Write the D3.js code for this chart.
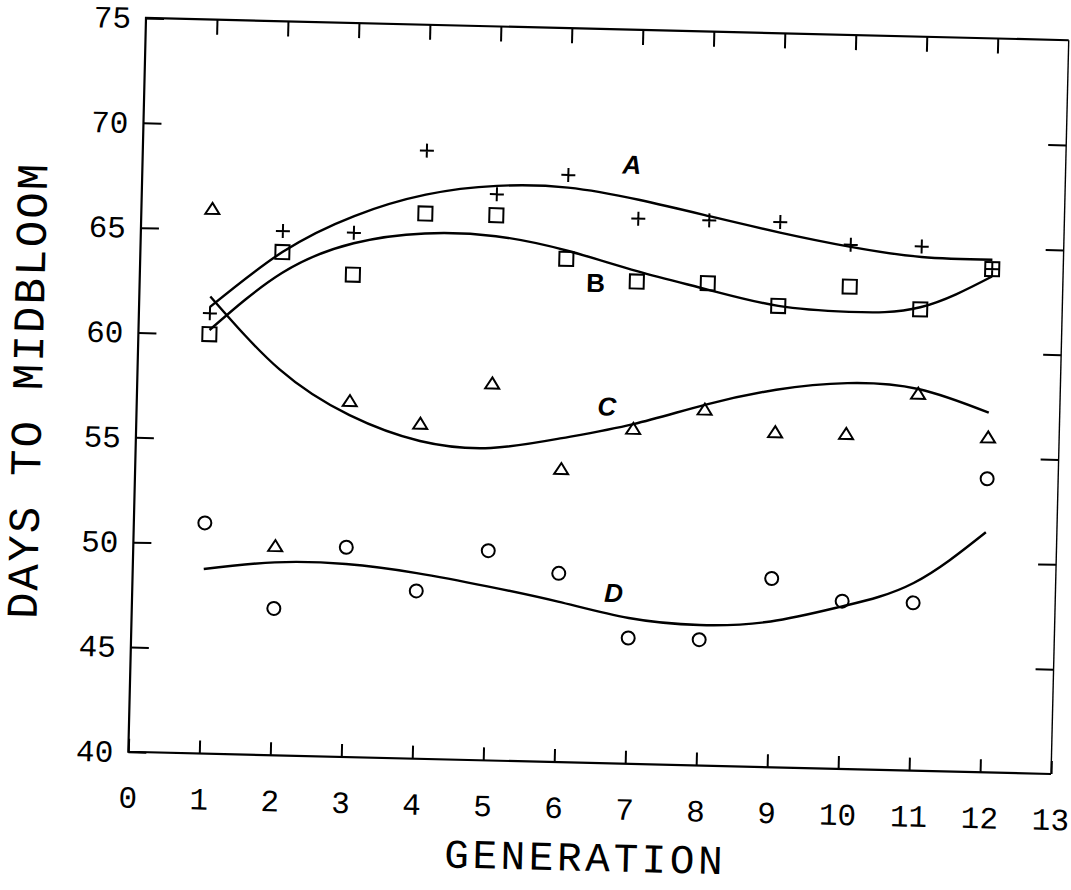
<!DOCTYPE html>
<html>
<head>
<meta charset="utf-8">
<script src="https://cdn.jsdelivr.net/npm/d3@7"></script>
<style>
  html, body { margin: 0; padding: 0; background: #fff; }
  svg { display: block; }
</style>
</head>
<body>
<svg id="chart" width="1071" height="890"></svg>
<script>
// Generations sampled
const generations = [1, 2, 3, 4, 5, 6, 7, 8, 9, 10, 11, 12];

// Observed days to midbloom, one value per generation
const seriesA = [61, 65, 65, 69, 67, 68, 66, 66, 66, 65, 65, 64];   // plus
const seriesB = [60, 64, 63, 66, 66, 64, 63, 63, 62, 63, 62, 64];   // square
const seriesC = [66, 50, 57, 56, 58, 54, 56, 57, 56, 56, 58, 56];   // triangle
const seriesD = [51, 47, 50, 48, 50, 49, 46, 46, 49, 48, 48, 54];   // circle

// Fitted response curves, sampled at each generation
const fitA = [61.3, 64.0, 65.8, 66.9, 67.4, 67.4, 66.9, 66.2, 65.5, 64.9, 64.5, 64.45];
const fitB = [60.2, 63.0, 64.5, 65.05, 65.0, 64.4, 63.5, 62.7, 62.0, 61.8, 62.1, 63.65];
const fitC = [61.8, 58.4, 56.3, 55.15, 54.9, 55.45, 56.2, 57.2, 58.0, 58.4, 58.2, 57.15];
const fitD = [48.8, 49.2, 49.2, 48.85, 48.3, 47.65, 46.95, 46.7, 46.95, 47.75, 48.95, 51.45];

// Axis ticks
const xTickLabels = [0, 1, 2, 3, 4, 5, 6, 7, 8, 9, 10, 11, 12, 13];
const yTickLabels = [40, 45, 50, 55, 60, 65, 70, 75];

// Curve labels (generation, days)
const curveLabels = [
  { text: "A", gen: 6.89, days: 68.56, italic: true },
  { text: "B", gen: 6.42, days: 62.88, italic: false },
  { text: "C", gen: 6.62, days: 57.01, italic: true },
  { text: "D", gen: 6.78, days: 48.13, italic: true }
];

const MONO = "'Liberation Mono', 'DejaVu Sans Mono', monospace";
const W = 923, H = 734;
const svg = d3.select("#chart");
svg.append("rect").attr("width", 1071).attr("height", 890).attr("fill", "#fff");

// the whole plot sits slightly tilted on the page
const g = svg.append("g").attr("transform", "translate(146,18) rotate(1.38)");

const x = d3.scaleLinear().domain([0, 13]).range([0, W]);
const y = d3.scaleLinear().domain([40, 75]).range([H, 0]);

function styleAxis(sel) {
  sel.select(".domain").remove();
  sel.selectAll(".tick line").attr("stroke", "#000").attr("stroke-width", 2);
  sel.selectAll(".tick text").attr("fill", "#000").attr("font-size", 31)
    .attr("font-family", MONO);
}

g.append("g").attr("transform", `translate(0,${H})`)
  .call(d3.axisBottom(x).tickValues(xTickLabels).tickSize(-13).tickPadding(34).tickFormat(d3.format("d")))
  .call(styleAxis);
g.append("g")
  .call(d3.axisTop(x).tickValues(generations).tickSize(-15).tickFormat(""))
  .call(styleAxis);
g.append("g")
  .call(d3.axisLeft(y).tickValues(yTickLabels).tickSize(-18).tickPadding(15).tickFormat(d3.format("d")))
  .call(styleAxis);
g.append("g").attr("transform", `translate(${W},0)`)
  .call(d3.axisRight(y).tickValues(yTickLabels.slice(1, -1)).tickSize(-18).tickFormat(""))
  .call(styleAxis);

// frame
g.append("path")
  .attr("d", `M${W},0 H0 V${H} H${W}`)
  .attr("fill", "none").attr("stroke", "#000").attr("stroke-width", 2.2);
g.append("line")
  .attr("x1", W).attr("y1", 0).attr("x2", W).attr("y2", H)
  .attr("stroke", "#000").attr("stroke-width", 1.4);

// axis titles
g.append("text")
  .attr("transform", `translate(${-95},${H / 2 + 8}) rotate(-90)`)
  .attr("text-anchor", "middle")
  .attr("font-family", MONO)
  .attr("font-size", 44).attr("letter-spacing", 2.2).attr("fill", "#000")
  .text("DAYS TO MIDBLOOM");
g.append("text")
  .attr("x", x(6.47)).attr("y", H + 97)
  .attr("text-anchor", "middle").attr("dominant-baseline", "central")
  .attr("font-family", MONO)
  .attr("font-size", 41).attr("letter-spacing", 3.6).attr("fill", "#000")
  .text("GENERATION");

// fitted curves
const line = d3.line().x((d, i) => x(generations[i])).y(d => y(d)).curve(d3.curveNatural);
[fitA, fitB, fitC, fitD].forEach(f => {
  g.append("path").attr("d", line(f))
    .attr("fill", "none").attr("stroke", "#000").attr("stroke-width", 2.4);
});

// point markers
const mk = g.append("g").attr("fill", "none").attr("stroke", "#000").attr("stroke-width", 2);
mk.selectAll(".pa").data(seriesA).join("path").attr("class", "pa")
  .attr("d", (d, i) => { const cx = x(generations[i]), cy = y(d);
    return `M${cx - 7},${cy}H${cx + 7}M${cx},${cy - 7}V${cy + 7}`; });
mk.selectAll(".pb").data(seriesB).join("rect").attr("class", "pb")
  .attr("x", (d, i) => x(generations[i]) - 7).attr("y", d => y(d) - 7)
  .attr("width", 14).attr("height", 14);
mk.selectAll(".pc").data(seriesC).join("path").attr("class", "pc")
  .attr("d", (d, i) => { const cx = x(generations[i]), cy = y(d);
    return `M${cx - 7},${cy + 5.5}L${cx},${cy - 5.5}L${cx + 7},${cy + 5.5}Z`; });
mk.selectAll(".pd").data(seriesD).join("circle").attr("class", "pd")
  .attr("cx", (d, i) => x(generations[i])).attr("cy", d => y(d)).attr("r", 6.5);

// curve labels
g.selectAll(".clabel").data(curveLabels).join("text").attr("class", "clabel")
  .attr("x", d => x(d.gen)).attr("y", d => y(d.days))
  .attr("text-anchor", "middle").attr("dominant-baseline", "central")
  .attr("font-family", "'Liberation Sans', Arial, sans-serif")
  .attr("font-weight", "bold").attr("font-size", 26)
  .attr("font-style", d => d.italic ? "italic" : "normal")
  .attr("fill", "#000")
  .text(d => d.text);
</script>
</body>
</html>
